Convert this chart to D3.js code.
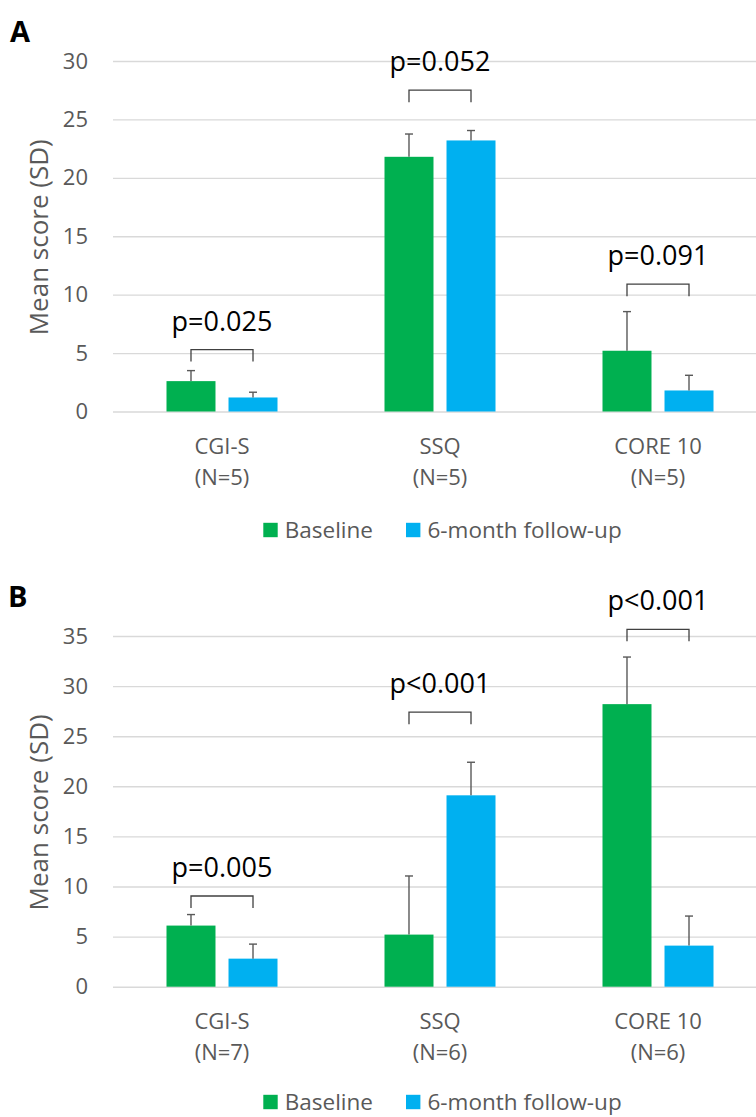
<!DOCTYPE html>
<html>
<head>
<meta charset="utf-8">
<script src="https://cdn.jsdelivr.net/npm/d3@7"></script>
<style>
    body { margin: 0; background: #fff; }
    text { font-family: "Open Sans", "Noto Sans", sans-serif; }
</style>
</head>
<body>
<svg id="chart" width="756" height="1117"></svg>
<script>
// Categories and series names
const categories = ['CGI-S', 'SSQ', 'CORE 10'];
const seriesNames = ['Baseline', '6-month follow-up'];
const seriesColors = ['#00b050', '#00b0f0'];

// Panel A values
const nA = ['(N=5)', '(N=5)', '(N=5)'];
const baselineA = [2.6, 21.8, 5.2];
const baselineSdA = [0.9, 1.95, 3.35];
const followUpA = [1.2, 23.2, 1.8];
const followUpSdA = [0.45, 0.85, 1.3];
const pValuesA = ['p=0.025', 'p=0.052', 'p=0.091'];
const bracketLevelA = [5.3, 27.5, 10.9];
const yTicksA = [0, 5, 10, 15, 20, 25, 30];

// Panel B values
const nB = ['(N=7)', '(N=6)', '(N=6)'];
const baselineB = [6.1, 5.2, 28.2];
const baselineSdB = [1.1, 5.85, 4.7];
const followUpB = [2.8, 19.1, 4.1];
const followUpSdB = [1.45, 3.3, 2.95];
const pValuesB = ['p=0.005', 'p<0.001', 'p<0.001'];
const bracketLevelB = [9.05, 27.4, 35.67];
const yTicksB = [0, 5, 10, 15, 20, 25, 30, 35];

const svg = d3.select('#chart');
const width = 756;
const left = 113;

function drawPanel(opts) {
    const g = svg.append('g');

    // Scales
    const x = d3.scaleBand().domain(categories).range([left, 767]).padding(0);
    const xInner = d3.scaleBand().domain([0, 1]).range([53.5, 164.5]).paddingInner(0.21);
    const y = d3.scaleLinear().domain([0, d3.max(opts.ticks)]).range([opts.bottom, opts.top]);

    // Gridlines + tick labels
    const yAxis = d3.axisLeft(y).tickValues(opts.ticks).tickSize(-(width - left)).tickPadding(25);
    const ax = g.append('g').attr('transform', `translate(${left},0)`).call(yAxis);
    ax.select('.domain').remove();
    ax.selectAll('line').attr('stroke', '#d9d9d9').attr('stroke-width', 1.4);
    ax.selectAll('text').attr('fill', '#595959').style('font-size', '22px');

    // Bars
    const rows = categories.map((c, i) => ({
        cat: c,
        vals: [opts.baseline[i], opts.followUp[i]],
        sds: [opts.baselineSd[i], opts.followUpSd[i]]
    }));

    rows.forEach((r, i) => {
        r.vals.forEach((v, s) => {
            const bx = x(r.cat) + xInner(s);
            const cx = bx + xInner.bandwidth() / 2;
            g.append('rect')
                .attr('x', bx)
                .attr('y', y(v))
                .attr('width', xInner.bandwidth())
                .attr('height', y(0) - y(v))
                .attr('fill', seriesColors[s]);
            // error bar (upper only)
            const top = y(v + r.sds[s]);
            g.append('line')
                .attr('x1', cx).attr('x2', cx)
                .attr('y1', y(v)).attr('y2', top)
                .attr('stroke', '#595959').attr('stroke-width', 1.4);
            g.append('line')
                .attr('x1', cx - 4).attr('x2', cx + 4)
                .attr('y1', top).attr('y2', top)
                .attr('stroke', '#595959').attr('stroke-width', 1.4);
        });

        // Significance bracket
        const c0 = x(r.cat) + xInner(0) + xInner.bandwidth() / 2;
        const c1 = x(r.cat) + xInner(1) + xInner.bandwidth() / 2;
        const by = y(opts.bracket[i]);
        g.append('path')
            .attr('d', `M${c0},${by + 12}V${by}H${c1}V${by + 12}`)
            .attr('fill', 'none')
            .attr('stroke', '#404040')
            .attr('stroke-width', 1.3);
        g.append('text')
            .attr('x', x(r.cat) + x.bandwidth() / 2)
            .attr('y', by - 19)
            .attr('text-anchor', 'middle')
            .attr('fill', '#000')
            .style('font-size', '27px')
            .text(opts.pValues[i]);

        // Category labels
        const lab = g.append('text')
            .attr('text-anchor', 'middle')
            .attr('fill', '#595959')
            .style('font-size', '22px');
        lab.append('tspan')
            .attr('x', x(r.cat) + x.bandwidth() / 2)
            .attr('y', opts.bottom + 42.5)
            .text(r.cat);
        lab.append('tspan')
            .attr('x', x(r.cat) + x.bandwidth() / 2)
            .attr('y', opts.bottom + 73.5)
            .text(opts.n[i]);
    });

    // Y axis title
    g.append('text')
        .attr('transform', `translate(48,${(opts.top + opts.bottom) / 2 + 1}) rotate(-90)`)
        .attr('text-anchor', 'middle')
        .attr('fill', '#595959')
        .style('font-size', '26px')
        .text('Mean score (SD)');

    // Panel letter
    g.append('text')
        .attr('x', opts.labelX)
        .attr('y', opts.labelY)
        .attr('fill', '#000')
        .style('font-size', '29px')
        .style('font-weight', 'bold')
        .text(opts.label);

    // Legend
    const ly = opts.legendY;
    const legendX = [263.3, 406];
    seriesNames.forEach((name, s) => {
        g.append('rect')
            .attr('x', legendX[s])
            .attr('y', ly - 7.2)
            .attr('width', 14.4)
            .attr('height', 14.4)
            .attr('fill', seriesColors[s]);
        g.append('text')
            .attr('x', legendX[s] + 21.5)
            .attr('y', ly + 8)
            .attr('fill', '#595959')
            .style('font-size', '22.5px')
            .text(name);
    });
}

drawPanel({
    label: 'A', labelX: 10, labelY: 42,
    top: 61, bottom: 411.5, ticks: yTicksA, legendY: 530,
    baseline: baselineA, baselineSd: baselineSdA,
    followUp: followUpA, followUpSd: followUpSdA,
    pValues: pValuesA, bracket: bracketLevelA, n: nA
});

drawPanel({
    label: 'B', labelX: 8, labelY: 607,
    top: 636, bottom: 986.7, ticks: yTicksB, legendY: 1102,
    baseline: baselineB, baselineSd: baselineSdB,
    followUp: followUpB, followUpSd: followUpSdB,
    pValues: pValuesB, bracket: bracketLevelB, n: nB
});
</script>
</body>
</html>
